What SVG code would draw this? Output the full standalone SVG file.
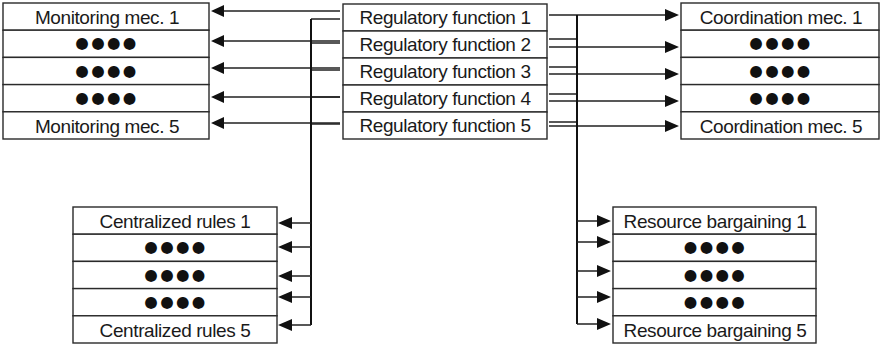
<svg xmlns="http://www.w3.org/2000/svg" width="882" height="347" viewBox="0 0 882 347">
<defs>
<style>
.box{fill:#fff;stroke:#2a2a2a;stroke-width:1.4}
.t{font-family:"Liberation Sans",Arial,sans-serif;font-size:19px;letter-spacing:-0.4px;fill:#1a1a1a;text-anchor:middle}
.d{font-family:"DejaVu Sans",sans-serif;font-size:15.5px;letter-spacing:2.3px;fill:#111;text-anchor:middle}
.c{fill:none;stroke:#222;stroke-width:1.3}
.v{fill:none;stroke:#111;stroke-width:2}
.ah{fill:#111;stroke:none}
</style>
</defs>
<g id="monitoring">
<g id="mon1"><rect class="box" x="3" y="3" width="206" height="27.2"/><text class="t" x="107" y="24">Monitoring mec. 1</text></g>
<g id="mon2"><rect class="box" x="3" y="30.2" width="206" height="27.2"/><text class="d" x="107" y="48.4">●●●●</text></g>
<g id="mon3"><rect class="box" x="3" y="57.4" width="206" height="27.2"/><text class="d" x="107" y="75.6">●●●●</text></g>
<g id="mon4"><rect class="box" x="3" y="84.6" width="206" height="27.2"/><text class="d" x="107" y="102.8">●●●●</text></g>
<g id="mon5"><rect class="box" x="3" y="111.8" width="206" height="27.2"/><text class="t" x="107" y="132.8">Monitoring mec. 5</text></g>
</g>
<g id="regulatory">
<g id="reg1"><rect class="box" x="343" y="4" width="204" height="27"/><text class="t" x="445" y="24">Regulatory function 1</text></g>
<g id="reg2"><rect class="box" x="343" y="31" width="204" height="27"/><text class="t" x="445" y="51">Regulatory function 2</text></g>
<g id="reg3"><rect class="box" x="343" y="58" width="204" height="27"/><text class="t" x="445" y="78">Regulatory function 3</text></g>
<g id="reg4"><rect class="box" x="343" y="85" width="204" height="27"/><text class="t" x="445" y="105">Regulatory function 4</text></g>
<g id="reg5"><rect class="box" x="343" y="112" width="204" height="27"/><text class="t" x="445" y="132">Regulatory function 5</text></g>
</g>
<g id="coordination">
<g id="coo1"><rect class="box" x="681" y="3" width="198" height="27.2"/><text class="t" x="781" y="24">Coordination mec. 1</text></g>
<g id="coo2"><rect class="box" x="681" y="30.2" width="198" height="27.2"/><text class="d" x="781" y="48.4">●●●●</text></g>
<g id="coo3"><rect class="box" x="681" y="57.4" width="198" height="27.2"/><text class="d" x="781" y="75.6">●●●●</text></g>
<g id="coo4"><rect class="box" x="681" y="84.6" width="198" height="27.2"/><text class="d" x="781" y="102.8">●●●●</text></g>
<g id="coo5"><rect class="box" x="681" y="111.8" width="198" height="27.2"/><text class="t" x="781" y="132.8">Coordination mec. 5</text></g>
</g>
<g id="centralized">
<g id="cen1"><rect class="box" x="73" y="207" width="204" height="27.2"/><text class="t" x="175" y="228">Centralized rules 1</text></g>
<g id="cen2"><rect class="box" x="73" y="234.2" width="204" height="27.2"/><text class="d" x="176" y="252.4">●●●●</text></g>
<g id="cen3"><rect class="box" x="73" y="261.4" width="204" height="27.2"/><text class="d" x="176" y="279.6">●●●●</text></g>
<g id="cen4"><rect class="box" x="73" y="288.6" width="204" height="27.2"/><text class="d" x="176" y="306.8">●●●●</text></g>
<g id="cen5"><rect class="box" x="73" y="315.8" width="204" height="27.2"/><text class="t" x="175" y="336.8">Centralized rules 5</text></g>
</g>
<g id="bargaining">
<g id="bar1"><rect class="box" x="613" y="207" width="203" height="27.2"/><text class="t" x="715" y="228">Resource bargaining 1</text></g>
<g id="bar2"><rect class="box" x="613" y="234.2" width="203" height="27.2"/><text class="d" x="715.5" y="252.4">●●●●</text></g>
<g id="bar3"><rect class="box" x="613" y="261.4" width="203" height="27.2"/><text class="d" x="715.5" y="279.6">●●●●</text></g>
<g id="bar4"><rect class="box" x="613" y="288.6" width="203" height="27.2"/><text class="d" x="715.5" y="306.8">●●●●</text></g>
<g id="bar5"><rect class="box" x="613" y="315.8" width="203" height="27.2"/><text class="t" x="715" y="336.8">Resource bargaining 5</text></g>
</g>
<g id="connectors">
<path class="c" d="M340 11H222M340 41H222M340 68H222M340 97H222M340 123H222"/>
<path class="ah" d="M211 11l13-6v12zM211 41l13-6v12zM211 68l13-6v12zM211 97l13-6v12zM211 123l13-6v12z"/>
<path class="c" d="M340 19H311M340 43H311M340 70H311M340 97H311M340 124H311"/>
<path class="v" d="M311 19V325"/>
<path class="c" d="M311 223H290M311 247H290M311 276H290M311 297H290M311 325H290"/>
<path class="ah" d="M278 223l14-6v12zM278 247l14-6v12zM278 276l14-6v12zM278 297l14-6v12zM278 325l14-6v12z"/>
<path class="c" d="M549 15H667M549 47H667M549 74H667M549 101H667M549 126H667"/>
<path class="ah" d="M679 15l-14-6v12zM679 47l-14-6v12zM679 74l-14-6v12zM679 101l-14-6v12zM679 126l-14-6v12z"/>
<path class="c" d="M549 39H577M549 67H577M549 94H577M549 122H577"/>
<path class="v" d="M577 15V324"/>
<path class="c" d="M577 221H598M577 242H598M577 271H598M577 297H598M577 324H598"/>
<path class="ah" d="M611 221l-14-6v12zM611 242l-14-6v12zM611 271l-14-6v12zM611 297l-14-6v12zM611 324l-14-6v12z"/>
</g>
</svg>
